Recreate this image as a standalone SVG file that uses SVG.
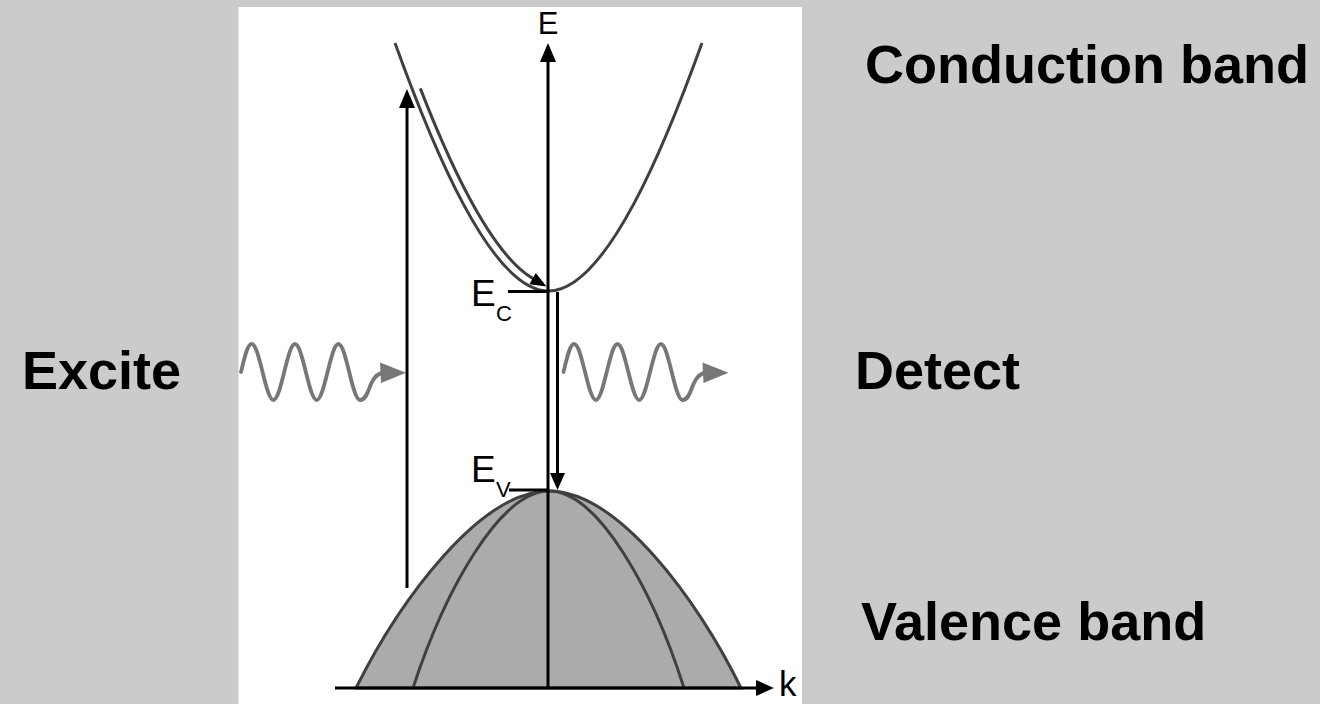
<svg xmlns="http://www.w3.org/2000/svg" width="1320" height="704" viewBox="0 0 1320 704">
<style>
.big{font-family:"Liberation Sans",Arial,sans-serif;font-weight:bold;font-size:54px;fill:#000}
.lbl{font-family:"Liberation Sans",Arial,sans-serif;fill:#000}
.band{fill:none;stroke:#404040;stroke-width:3}
.ax{stroke:#000;stroke-width:3;fill:none}
.ahead{fill:#000}
.wave{fill:none;stroke:#777777;stroke-width:3.8;stroke-linecap:round}
</style>
<defs>
<g id="photon">
<path class="wave" d="M241,372 C244.6,357 247.4,344 251.7,344 C259.6,344 265.5,400 273.4,400 C281.3,400 287.1,344 295,344 C302.9,344 308.8,400 316.7,400 C324.6,400 330.5,344 338.4,344 C346.3,344 352.1,400 360,400 C367,400 368.5,388 372,382 C375,376 379,373 384,372.5"/>
<polygon fill="#777777" points="380,362.5 406,372.7 381,383"/>
</g>
</defs>
<rect x="0" y="0" width="1320" height="704" fill="#cbcbcb"/>
<rect x="238.5" y="7" width="563.5" height="697" fill="#ffffff"/>

<g id="valence-band">
<path d="M356,688 C400,600 480,491 549,491 C618,491 698,600 741,688 Z" fill="#ababab" stroke="#404040" stroke-width="3"/>
<path class="band" d="M413,688 C445,590 500,491 549,491 C598,491 653,590 684,688"/>
</g>

<g id="conduction-band">
<path class="band" d="M395,43 C430,140 490,291 548.5,291 C607,291 667,140 702,43"/>
</g>

<g id="photon-excite"><use href="#photon"/></g>
<g id="photon-detect"><use href="#photon" x="322.5"/></g>

<g id="connectors">
<!-- E axis -->
<line class="ax" x1="548" y1="688" x2="548" y2="58"/>
<polygon class="ahead" points="548,43 540,62 556,62"/>
<!-- k axis -->
<line class="ax" x1="335" y1="688" x2="760" y2="688"/>
<polygon class="ahead" points="774,688 756,680 756,696"/>
<!-- Ec and Ev ticks -->
<line class="ax" x1="508" y1="291.5" x2="548" y2="291.5" stroke-width="2.5"/>
<line class="ax" x1="509" y1="490" x2="548" y2="490" stroke-width="2.5"/>
<!-- excitation arrow -->
<line class="ax" x1="407" y1="588" x2="407" y2="104"/>
<polygon class="ahead" points="407,89 399,108 415,108"/>
<!-- relaxation arrow along conduction band -->
<path class="band" d="M420.3,88.4 C450.7,166.6 491.6,255 533.5,278.9"/>
<polygon class="ahead" points="546.5,286.5 529.4,284.2 535.8,273"/>
<!-- detect (recombination) arrow -->
<line class="ax" x1="557.5" y1="292" x2="557.5" y2="474"/>
<polygon class="ahead" points="557.5,490 550,473 565,473"/>
</g>

<g id="labels">
<text class="lbl" x="548" y="34" font-size="31" text-anchor="middle">E</text>
<text class="lbl" x="471" y="306" font-size="37">E</text>
<text class="lbl" x="496" y="321" font-size="22">C</text>
<text class="lbl" x="471" y="482" font-size="37">E</text>
<text class="lbl" x="496" y="497" font-size="22">V</text>
<text class="lbl" x="779" y="696" font-size="35">k</text>
<text class="big" x="865" y="83">Conduction band</text>
<text class="big" x="22" y="389" font-size="53">Excite</text>
<text class="big" x="855" y="389">Detect</text>
<text class="big" x="861" y="640">Valence band</text>
</g>
</svg>
